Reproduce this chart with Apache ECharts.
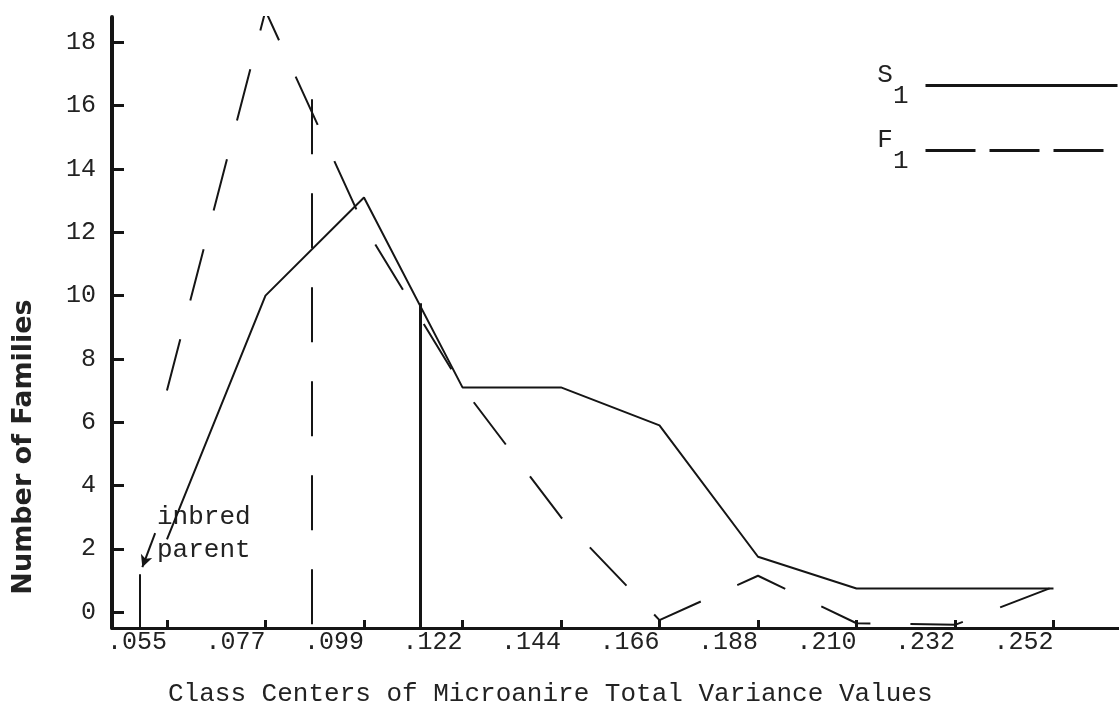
<!DOCTYPE html>
<html>
<head>
<meta charset="utf-8">
<script src="https://cdn.jsdelivr.net/npm/echarts@6/dist/echarts.min.js"></script>
<style>
  html, body { margin: 0; padding: 0; background: #fff; }
  #chart { width: 1119px; height: 719px; }
</style>
</head>
<body>
<div id="chart"></div>
<script>
// class centers (evenly spaced on the x axis, positioned by index)
const classCenters = ['.055', '.077', '.099', '.122', '.144', '.166', '.188', '.210', '.232', '.252'];
// number of families per class
const s1Counts = [2.3, 10.0, 13.1, 7.1, 7.1, 5.9, 1.75, 0.75, 0.75, 0.75];
const f1Counts = [7.0, 19.0, 12.2, 7.1, 3.0, -0.25, 1.15, -0.35, -0.4, 0.8];
const yTicks = [0, 2, 4, 6, 8, 10, 12, 14, 16, 18];
// means (x in class index units) and inbred parent
const s1Mean = [2.57, 9.76];
const f1Mean = [1.47, 16.2];
const inbredParent = [-0.28, 1.2];
const arrowFrom = [-0.12, 2.5];
const arrowTo = [-0.25, 1.42];

const ink = '#151515';
const mono = 'Liberation Mono';

const chart = echarts.init(document.getElementById('chart'));

const xIdx = classCenters.map((c, i) => i);

chart.setOption({
    animation: false,
    backgroundColor: '#fff',
    title: {
        text: 'Class Centers of Microanire Total Variance Values',
        left: 168,
        top: 681,
        padding: 0,
        textStyle: { fontFamily: mono, fontSize: 26, fontWeight: 'normal', color: '#222' }
    },
    legend: {
        orient: 'vertical',
        right: 0,
        top: 62,
        padding: 0,
        align: 'right',
        itemWidth: 192,
        itemHeight: 4,
        itemGap: 18,
        itemStyle: { opacity: 0 },
        data: [
            { name: 'S1', lineStyle: { width: 3 } },
            { name: 'F1', lineStyle: { width: 3, type: [50, 14] } }
        ],
        formatter: name => '{a|' + name[0] + '}{b|' + name.slice(1) + '}',
        textStyle: {
            color: '#222',
            rich: {
                a: { fontFamily: mono, fontSize: 26, color: '#222', padding: [0, 0, 21, 0] },
                b: { fontFamily: mono, fontSize: 26, color: '#222', padding: [21, 12, 0, 0] }
            }
        }
    },
    grid: { left: 112, right: 0, top: 17, bottom: 91, containLabel: false },
    xAxis: {
        type: 'value',
        min: -0.558,
        max: 9.665,
        splitLine: { show: false },
        axisLine: { onZero: false, lineStyle: { color: ink, width: 3 } },
        axisTick: {
            customValues: xIdx,
            inside: true,
            length: 8,
            lineStyle: { color: ink, width: 3 }
        },
        axisLabel: {
            customValues: xIdx,
            formatter: v => classCenters[Math.round(v)],
            align: 'right',
            margin: 2,
            fontFamily: mono,
            fontSize: 25,
            color: '#222'
        }
    },
    yAxis: {
        type: 'value',
        min: -0.5,
        max: 18.8,
        splitLine: { show: false },
        axisLine: { onZero: false, lineStyle: { color: ink, width: 4 } },
        axisTick: {
            customValues: yTicks,
            inside: true,
            length: 12,
            lineStyle: { color: ink, width: 3 }
        },
        axisLabel: {
            customValues: yTicks,
            margin: 16,
            fontFamily: mono,
            fontSize: 25,
            color: '#222'
        }
    },
    graphic: [
        {
            type: 'text',
            x: 24,
            y: 447,
            rotation: Math.PI / 2,
            style: {
                text: 'Number of Families',
                font: 'bold 27px "DejaVu Sans"',
                fill: '#222',
                align: 'center',
                verticalAlign: 'middle'
            }
        },
        {
            type: 'text',
            x: 157,
            y: 501,
            style: {
                text: 'inbred\nparent',
                font: '26px "Liberation Mono"',
                lineHeight: 33,
                fill: '#222',
                align: 'left',
                verticalAlign: 'top'
            }
        }
    ],
    series: [
        {
            name: 'S1',
            type: 'line',
            symbol: 'none',
            data: s1Counts.map((v, i) => [i, v]),
            lineStyle: { color: ink, width: 2 },
            itemStyle: { color: ink },
            markLine: {
                silent: true,
                symbol: ['none', 'none'],
                label: { show: false },
                lineStyle: { color: ink, width: 3, type: 'solid' },
                data: [
                    [{ coord: [s1Mean[0], -0.5] }, { coord: s1Mean }],
                    [{ coord: [inbredParent[0], -0.5], lineStyle: { width: 2 } }, { coord: inbredParent }],
                    [
                        { coord: arrowFrom, symbol: 'none', lineStyle: { width: 2 } },
                        { coord: arrowTo, symbol: 'arrow', symbolSize: [9, 12] }
                    ]
                ]
            }
        },
        {
            name: 'F1',
            type: 'line',
            symbol: 'none',
            data: f1Counts.map((v, i) => [i, v]),
            lineStyle: { color: ink, width: 2, type: [53, 40] },
            itemStyle: { color: ink },
            markLine: {
                silent: true,
                symbol: ['none', 'none'],
                label: { show: false },
                lineStyle: { color: ink, width: 2, type: [55, 39] },
                data: [
                    [{ coord: f1Mean }, { coord: [f1Mean[0], -0.5] }]
                ]
            }
        }
    ]
});
</script>
</body>
</html>
